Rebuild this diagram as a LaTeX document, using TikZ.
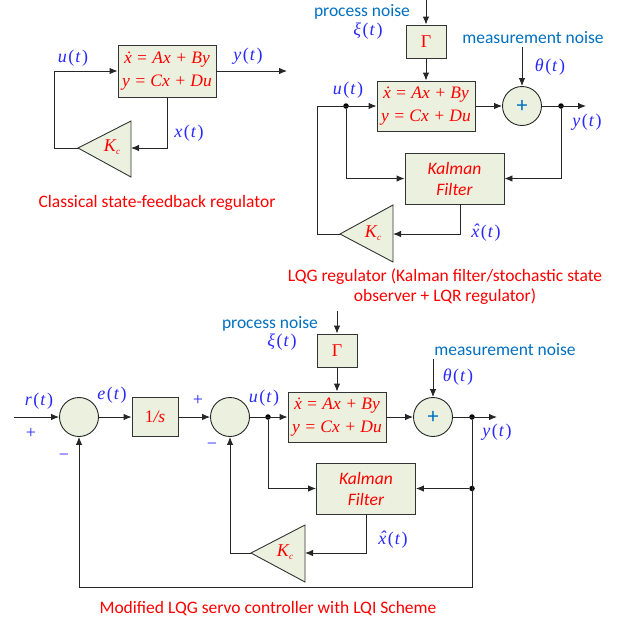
\documentclass[tikz,border=0pt]{standalone}
\usepackage{fontspec}
\setmainfont{Carlito}
\newfontfamily\tms{Liberation Serif}
\usetikzlibrary{arrows.meta}
\definecolor{boxfill}{RGB}{235,241,222}
\definecolor{sigblue}{RGB}{40,40,255}
\definecolor{noiseblue}{RGB}{0,112,192}
\newcommand{\sig}[1]{\textit{#1}\kern1.5pt(\kern1pt\textit{t}\kern1.5pt)}
\newcommand{\xhat}{\textit{x}\kern-0.36em\raisebox{1pt}{ˆ}\kern0.03em}
\newcommand{\gainlbl}{K\kern0.3pt\raisebox{-3.5pt}{\fontsize{9}{9}\selectfont c}}
\newcommand{\stateeq}{\.{x} = Ax + By\\ y = Cx + Du}
\tikzset{
  line/.style={line width=0.9pt, draw=black!85},
  arr/.style={line, -{Latex[length=8pt,width=6.5pt]}},
  block/.style={draw=black!80, line width=0.9pt, fill=boxfill, inner sep=0pt,
    text=red, font=\tms\itshape\fontsize{17.5}{23}\selectfont, align=center},
  kalman/.style={block, font=\itshape\fontsize{17.5}{21}\selectfont,
    minimum width=99pt, minimum height=51pt},
  gammabox/.style={block, font=\tms\fontsize{18}{20}\selectfont,
    minimum width=40pt, minimum height=33pt},
  sumnode/.style={circle, draw=black!85, line width=0.9pt, fill=boxfill,
    minimum size=39pt, inner sep=0pt, text=noiseblue, font=\fontsize{22}{22}\selectfont},
  joint/.style={circle, fill=black, minimum size=5.5pt, inner sep=0pt},
  sig/.style={text=sigblue, font=\tms\fontsize{18}{20}\selectfont, inner sep=0pt},
  noise/.style={text=noiseblue, font=\fontsize{17.5}{20}\selectfont, inner sep=0pt},
  caption/.style={text=red, font=\fontsize{17.5}{20}\selectfont, align=center, inner sep=0pt},
  gain/.style={draw=black!80, line width=0.9pt, fill=boxfill},
  gaintext/.style={text=red, font=\tms\itshape\fontsize{18}{20}\selectfont, inner sep=0pt}
}

\begin{document}
\begin{tikzpicture}[x=1pt, y=-1pt]
  \useasboundingbox (0,0) rectangle (635,622);

  % classical state-feedback regulator
  \node[block, minimum width=98pt, minimum height=52pt] (sysA) at (167,71) {\stateeq};
  \coordinate (yA) at (287,71);
  \draw[gain] (78,148) -- (131,121) -- (131,177) -- cycle;
  \coordinate (kcAin) at (131,148);
  \coordinate (kcAout) at (78,148);
  \node[gaintext] (kcA) at (112,147) {\gainlbl};
  \node[sig] (uA) at (73,58) {\sig{u}};
  \node[sig] (yAl) at (248,56) {\sig{y}};
  \node[sig] (xA) at (189,133) {\sig{x}};
  \draw[arr] (sysA) -- (yA);
  \draw[arr] (sysA.south) |- (kcAin);
  \draw[arr] (kcAout) -- (54,148) |- (sysA.west);
  \node[caption] (capA) at (157,203) {Classical state-feedback regulator};

  % LQG regulator
  \node[noise] (pnB) at (362,12) {process noise};
  \node[sig] (xiB) at (368,31) {\sig{ξ}};
  \coordinate (pnBin) at (426,0);
  \node[gammabox] (gamB) at (426,41.5) {Γ};
  \node[block, minimum width=98pt, minimum height=50pt] (sysB) at (426,106) {\stateeq};
  \node[sumnode] (sumB) at (522,106) {+};
  \node[noise] (mnB) at (533,38) {measurement noise};
  \node[sig] (thB) at (550,67) {\sig{θ}};
  \coordinate (mnBin) at (522,47);
  \coordinate (yB) at (586,106);
  \node[joint] (jyB) at (561,106) {};
  \node[joint] (juB) at (346,106) {};
  \node[sig] (uB) at (348,90) {\sig{u}};
  \node[sig] (yBl) at (587,122) {\sig{y}};
  \node[kalman] (kalB) at (454.5,178.5) {Kalman\\Filter};
  \draw[gain] (340,234) -- (393,205) -- (393,262) -- cycle;
  \coordinate (kcBin) at (393,234);
  \coordinate (kcBout) at (340,234);
  \node[gaintext] (kcB) at (373,233) {\gainlbl};
  \node[sig] (xhB) at (486,233) {\sig{\xhat}};
  \draw[arr] (pnBin) -- (gamB);
  \draw[arr] (gamB) -- (sysB);
  \draw[arr] (sysB) -- (sumB);
  \draw[arr] (mnBin) -- (sumB);
  \draw[arr] (sumB) -- (yB);
  \draw[arr] (juB) |- (kalB.west);
  \draw[arr] (jyB) |- (kalB.east);
  \draw[arr] ([xshift=6pt]kalB.south) |- (kcBin);
  \draw[arr] (kcBout) -- (317,234) |- (sysB.west);
  \node[caption] (capB) at (445,287) {LQG regulator (Kalman filter/stochastic state\\observer + LQR regulator)};

  % modified LQG servo controller
  \coordinate (rC) at (14,417);
  \node[sumnode] (sumC1) at (79,417) {};
  \node[sig] (rCl) at (39,401) {\sig{r}};
  \node[sig] (pC1) at (31,433) {+};
  \node[sig] (mC1) at (64,457) {−};
  \node[sig] (eCl) at (112,395) {\sig{e}};
  \node[block, minimum width=46pt, minimum height=39pt] (intC) at (155,417) {{\upshape 1}/s};
  \node[sumnode] (sumC2) at (230,417) {};
  \node[sig] (pC2) at (198,400) {+};
  \node[sig] (mC2) at (212,446) {−};
  \node[joint] (juC) at (268,417) {};
  \node[sig] (uC) at (264,398) {\sig{u}};
  \node[block, minimum width=98pt, minimum height=50pt] (sysC) at (337,417) {\stateeq};
  \node[gammabox] (gamC) at (337,350.5) {Γ};
  \coordinate (pnCin) at (337,311);
  \node[noise] (pnC) at (270,324) {process noise};
  \node[sig] (xiC) at (282,342) {\sig{ξ}};
  \node[sumnode] (sumC3) at (433,417) {+};
  \node[noise] (mnC) at (505,350) {measurement noise};
  \node[sig] (thC) at (458,377) {\sig{θ}};
  \coordinate (mnCin) at (433,359);
  \coordinate (yC) at (497,417);
  \node[joint] (jyC) at (472,417) {};
  \node[sig] (yCl) at (497,432) {\sig{y}};
  \node[kalman] (kalC) at (366,488.5) {Kalman\\Filter};
  \node[joint] (jkC) at (472,488.5) {};
  \draw[gain] (251,553) -- (305,525) -- (305,582) -- cycle;
  \coordinate (kcCin) at (305,553);
  \coordinate (kcCout) at (251,553);
  \node[gaintext] (kcC) at (285,552) {\gainlbl};
  \node[sig] (xhC) at (393,540) {\sig{\xhat}};
  \coordinate (fbC) at (472,587);
  \draw[arr] (rC) -- (sumC1);
  \draw[arr] (sumC1) -- (intC);
  \draw[arr] (intC) -- (sumC2);
  \draw[arr] (sumC2) -- (sysC);
  \draw[arr] (pnCin) -- (gamC);
  \draw[arr] (gamC) -- (sysC);
  \draw[arr] (sysC) -- (sumC3);
  \draw[arr] (mnCin) -- (sumC3);
  \draw[arr] (sumC3) -- (yC);
  \draw[arr] (juC) |- (kalC.west);
  \draw[arr] (jkC) -- (kalC.east);
  \draw[arr] (kalC.south) |- (kcCin);
  \draw[arr] (kcCout) -| (sumC2.south);
  \draw[arr] (jyC) -- (fbC) -| (sumC1.south);
  \node[caption] (capC) at (268,609) {Modified LQG servo controller with LQI Scheme};
\end{tikzpicture}
\end{document}
